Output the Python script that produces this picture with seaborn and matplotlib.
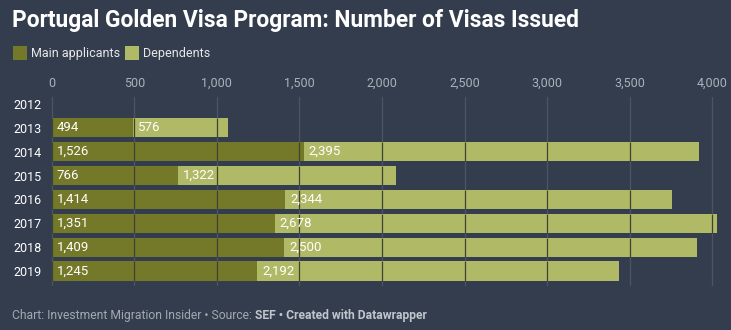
import numpy as np
import pandas as pd
import matplotlib
matplotlib.use("Agg")
import matplotlib.pyplot as plt
import seaborn as sns
from matplotlib.patches import Rectangle

years = ["2012", "2013", "2014", "2015", "2016", "2017", "2018", "2019"]
main_applicants = [np.nan, 494, 1526, 766, 1414, 1351, 1409, 1245]
dependents = [np.nan, 576, 2395, 1322, 2344, 2678, 2500, 2192]
xticks = [0, 500, 1000, 1500, 2000, 2500, 3000, 3500, 4000]

BG = "#333d4d"
C_MAIN = "#74792a"
C_DEP = "#b0ba66"
BAR_W = 0.81

sns.set_theme(style="white")
plt.rcParams["font.family"] = ["Roboto", "DejaVu Sans"]

df = pd.DataFrame({"year": years, "main": main_applicants, "dep": dependents})
df["total"] = df["main"] + df["dep"]

W, H = 731, 330
fig = plt.figure(figsize=(W / 100, H / 100), dpi=100, facecolor=BG)
ax = fig.add_axes([51.7 / W, (330 - 283) / H, (717 - 51.7) / W, (283 - 92) / H])
ax.set_facecolor(BG)

sns.barplot(data=df, y="year", x="total", order=years, color=C_DEP, width=BAR_W,
            orient="h", ax=ax, saturation=1, linewidth=0, zorder=2)
sns.barplot(data=df, y="year", x="main", order=years, color=C_MAIN, width=BAR_W,
            orient="h", ax=ax, saturation=1, linewidth=0, zorder=3)

ax.set_xlim(0, 4029)
ax.set_ylim(7.5, -0.5)
for s in ax.spines.values():
    s.set_visible(False)
ax.set_xlabel("")
ax.set_ylabel("")
ax.xaxis.tick_top()
ax.set_xticks(xticks)
ax.set_xticklabels([f"{v:,}" for v in xticks], color="#aab1ba", fontsize=9)
ax.tick_params(axis="x", length=0, pad=1.5)
ax.tick_params(axis="y", length=0, pad=7.5)
for lbl in ax.get_yticklabels():
    lbl.set_color("white")
    lbl.set_fontsize(9)
    lbl.set_horizontalalignment("right")

# grid behind bars (light on background)
for xv in xticks:
    ax.axvline(xv, ymin=-0.01, ymax=0.974, color="#4c5565", lw=0.9, zorder=1, clip_on=False)
# grid over bars (dark on bars)
for i, tot in enumerate(df["total"]):
    if np.isnan(tot):
        continue
    xs = [v for v in xticks if v < tot]
    ax.vlines(xs, i - BAR_W / 2, i + BAR_W / 2, color="#3e4331", lw=0.9, zorder=4)

for i, (m, d) in enumerate(zip(main_applicants, dependents)):
    if np.isnan(m):
        continue
    ax.text(30, i, f"{int(m):,}", color="white", va="center", ha="left", fontsize=9.5, zorder=5)
    ax.text(m + 30, i, f"{int(d):,}", color="white", va="center", ha="left", fontsize=9.5, zorder=5)

fig.text(12 / W, 1 - 21 / H, "Portugal Golden Visa Program: Number of Visas Issued",
         color="white", fontsize=16.4, fontweight="bold", va="center", ha="left")

# legend
fig.patches.append(Rectangle((13 / W, 1 - 60 / H), 14 / W, 14 / H, transform=fig.transFigure,
                             facecolor=C_MAIN, edgecolor="none"))
fig.text(31 / W, 1 - 53 / H, "Main applicants", color="#e8e8e8", fontsize=9, va="center")
fig.patches.append(Rectangle((125 / W, 1 - 60 / H), 14 / W, 14 / H, transform=fig.transFigure,
                             facecolor=C_DEP, edgecolor="none"))
fig.text(143 / W, 1 - 53 / H, "Dependents", color="#e8e8e8", fontsize=9, va="center")

# footer
t1 = fig.text(12 / W, 1 - 316 / H, "Chart: Investment Migration Insider • Source: ",
              color="#a3a9b1", fontsize=8.75, va="center")
fig.canvas.draw()
bb = t1.get_window_extent()
fig.text(bb.x1 / W, 1 - 316 / H, "SEF • Created with Datawrapper",
         color="#c0c5cc", fontsize=8.75, va="center", fontweight="bold")

fig.savefig("out.png", dpi=100, facecolor=BG)
